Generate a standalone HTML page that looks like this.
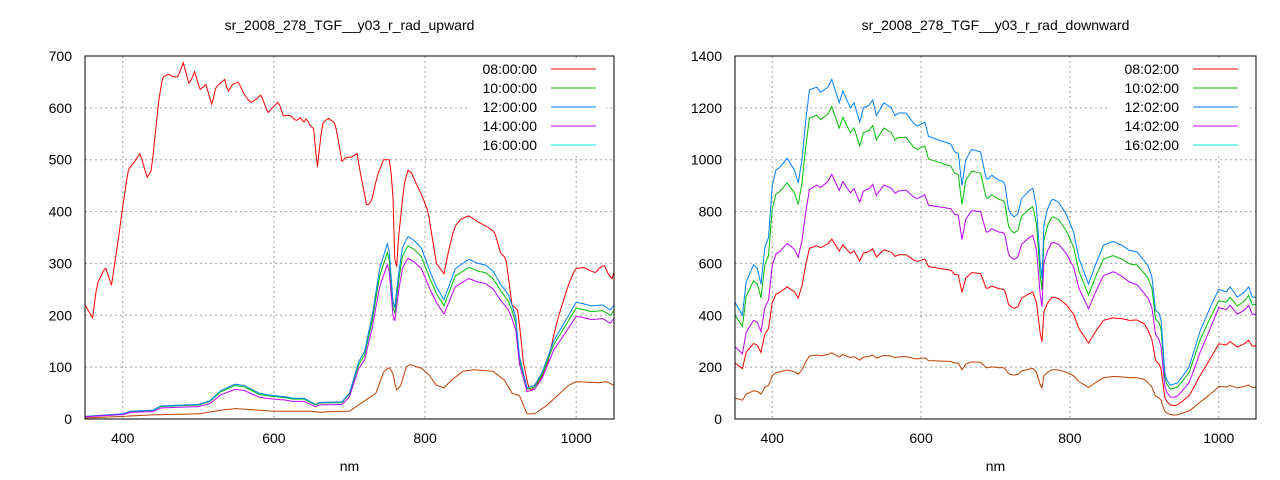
<!DOCTYPE html>
<html><head><meta charset="utf-8"><style>
body{margin:0;background:#fff;}
svg{display:block;font-family:"Liberation Sans",sans-serif;}
</style></head><body>
<svg id="s" width="1280" height="480" xmlns="http://www.w3.org/2000/svg"></svg>
<script>
const S=document.getElementById('s');let h='';
function lerp(pts,x){for(let i=0;i<pts.length-1;i++){if(x>=pts[i][0]&&x<=pts[i+1][0]){const t=(x-pts[i][0])/(pts[i+1][0]-pts[i][0]);return pts[i][1]+t*(pts[i+1][1]-pts[i][1]);}}return pts[pts.length-1][1];}
function plot(o){
 const X=v=>o.x0+(v-350)*(o.x1-o.x0)/700, Y=v=>o.y1-(v)*(o.y1-o.y0)/o.ymax;
 for(let v=400;v<=1000;v+=200){const x=X(v);h+=`<line x1="${x}" y1="${o.y0}" x2="${x}" y2="${o.y1}" stroke="#a0a0a0" stroke-dasharray="2,3"/>`;
  h+=`<text x="${x}" y="${o.y1+24}" font-size="14" text-anchor="middle" fill="#000">${v}</text>`;}
 for(let v=0;v<=o.ymax;v+=o.ystep){const y=Y(v);if(v>0&&v<o.ymax)h+=`<line x1="${o.x0}" y1="${y}" x2="${o.x1}" y2="${y}" stroke="#a0a0a0" stroke-dasharray="2,3"/>`;
  h+=`<text x="${o.x0-13}" y="${y+5}" font-size="14" text-anchor="end" fill="#000">${v}</text>`;}
 h+=`<rect x="${o.lx-70}" y="60" width="${o.x1-o.lx+62}" height="94" fill="#fff"/>`;
 o.series.forEach(s=>{let p=[];for(let v=350;v<=1050;v+=2.5){p.push(X(v).toFixed(1)+','+Y(s.f(v)).toFixed(1));}
  h+=`<polyline points="${p.join(' ')}" fill="none" stroke="${s.c}" stroke-width="1"/>`;});
 const lc=['#ff0000','#00c000','#0080ff','#c000ff','#00eeee'];
 o.labels.forEach((l,i)=>{const y=69+19*i;h+=`<text x="${o.lx}" y="${y+5}" font-size="14" text-anchor="end">${l}</text><line x1="${o.lx+14}" y1="${y}" x2="${o.lx+59}" y2="${y}" stroke="${lc[i]}"/>`;});
 h+=`<rect x="${o.x0}" y="${o.y0}" width="${o.x1-o.x0}" height="${o.y1-o.y0}" fill="none" stroke="#000"/>`;
 h+=`<text x="${(o.x0+o.x1)/2}" y="30" font-size="14" text-anchor="middle">${o.title}</text>`;
 h+=`<text x="${(o.x0+o.x1)/2}" y="471" font-size="14" text-anchor="middle">nm</text>`;
}
const redU=[[350,220],[360,195],[366,260],[377,293],[385,258],[394,345],[399,400],[407,480],[415,495],[423,513],[432,465],[438,480],[448,620],[453,660],[461,665],[466,660],[473,660],[480,687],[488,645],[495,670],[502,635],[510,645],[518,605],[523,640],[535,655],[539,630],[545,645],[553,650],[561,625],[569,610],[575,615],[583,625],[592,590],[598,600],[606,612],[612,585],[622,585],[629,575],[636,582],[639,570],[643,580],[648,565],[653,560],[657,480],[664,570],[672,580],[681,570],[690,497],[696,505],[703,505],[710,512],[715,470],[723,410],[729,420],[737,470],[745,500],[753,500],[757,450],[761,260],[765,350],[772,450],[777,480],[782,475],[788,455],[796,430],[804,400],[815,300],[825,280],[832,330],[839,370],[847,385],[858,392],[870,380],[883,370],[892,360],[900,320],[907,310],[915,220],[923,210],[930,110],[937,60],[940,55],[950,70],[961,100],[970,160],[977,200],[990,260],[999,290],[1010,292],[1020,285],[1026,282],[1030,290],[1037,297],[1043,278],[1048,270],[1050,283]];
const blueU=[[350,5],[400,10],[410,15],[440,17],[450,25],[480,27],[500,28],[515,35],[530,55],[548,67],[560,65],[580,50],[590,47],[600,45],[615,43],[625,40],[640,40],[655,28],[660,32],[690,33],[700,50],[712,110],[720,130],[730,200],[740,290],[750,338],[753,320],[757,230],[760,215],[765,280],[770,330],[777,352],[785,345],[795,330],[805,290],[815,255],[825,230],[830,250],[840,290],[858,308],[870,300],[880,297],[890,285],[900,260],[910,240],[915,220],[920,195],[925,120],[935,60],[945,65],[955,90],[970,150],[990,200],[1000,225],[1010,222],[1020,218],[1035,220],[1045,210],[1050,220]];
const brownU=[[350,2],[400,5],[440,8],[500,10],[530,17],[550,20],[570,18],[600,15],[650,15],[660,13],[690,15],[700,15],[720,35],[735,50],[745,90],[752,100],[757,90],[762,55],[768,65],[775,100],[780,105],[795,98],[805,85],[815,65],[825,60],[835,75],[850,92],[865,95],[890,92],[905,75],[915,50],[925,45],[935,10],[945,10],[960,25],[975,45],[990,65],[1000,72],[1030,70],[1040,72],[1050,65]];
plot({x0:85,x1:614,y0:56,y1:419,ymax:700,ystep:100,lx:537,title:"sr_2008_278_TGF__y03_r_rad_upward",
 labels:["08:00:00","10:00:00","12:00:00","14:00:00","16:00:00"],
 series:[{c:'#ff0000',f:v=>lerp(redU,v)},{c:'#00c000',f:v=>lerp(blueU,v)*(v<700?0.96:0.95)},{c:'#0080ff',f:v=>lerp(blueU,v)},{c:'#c000ff',f:v=>lerp(blueU,v)*(v<700?0.85:0.88)},{c:'#c04000',f:v=>lerp(brownU,v)}]});
const blueD=[[350,450],[360,400],[365,530],[375,595],[380,580],[385,520],[390,660],[395,700],[400,900],[405,960],[410,970],[420,1005],[430,960],[435,910],[440,1000],[445,1150],[450,1270],[460,1280],[465,1260],[475,1280],[480,1310],[490,1220],[495,1265],[505,1200],[510,1220],[518,1140],[522,1200],[530,1210],[535,1230],[540,1170],[550,1220],[560,1200],[565,1170],[570,1180],[580,1180],[590,1140],[595,1130],[605,1145],[610,1090],[620,1080],[630,1070],[640,1060],[645,1030],[650,1025],[655,900],[660,1000],[668,1040],[680,1030],[688,920],[695,940],[705,920],[712,915],[718,800],[725,780],[730,790],[735,850],[745,880],[750,890],[755,820],[759,650],[762,500],[765,750],[770,810],[776,850],[785,835],[795,790],[805,720],[812,620],[825,520],[835,600],[845,670],[858,685],[870,670],[880,650],[890,645],[900,610],[905,590],[910,550],[915,420],[922,400],[928,160],[935,130],[945,140],[960,200],[975,340],[990,440],[1000,500],[1010,490],[1015,510],[1025,470],[1035,490],[1040,510],[1045,470],[1050,470]];
const rG=[[350,.89],[480,.92],[860,.92],[915,.92],[940,.88],[1050,.94]],
 rP=[[350,.62],[480,.72],[800,.81],[860,.83],[915,.78],[940,.62],[1000,.86],[1050,.86]],
 rR=[[350,.48],[480,.53],[760,.55],[800,.56],[860,.57],[900,.6],[920,.52],[940,.38],[1000,.58],[1050,.6]],
 rB=[[350,.18],[480,.195],[760,.22],[800,.23],[860,.24],[900,.25],[920,.2],[940,.11],[1000,.25],[1050,.26]];
plot({x0:735,x1:1256,y0:56,y1:419,ymax:1400,ystep:200,lx:1179,title:"sr_2008_278_TGF__y03_r_rad_downward",
 labels:["08:02:00","10:02:00","12:02:00","14:02:00","16:02:00"],
 series:[{c:'#ff0000',f:v=>lerp(blueD,v)*lerp(rR,v)},{c:'#00c000',f:v=>lerp(blueD,v)*lerp(rG,v)},{c:'#0080ff',f:v=>lerp(blueD,v)},{c:'#c000ff',f:v=>lerp(blueD,v)*lerp(rP,v)},{c:'#c04000',f:v=>lerp(blueD,v)*lerp(rB,v)}]});
S.innerHTML=h;
</script>
</body></html>
